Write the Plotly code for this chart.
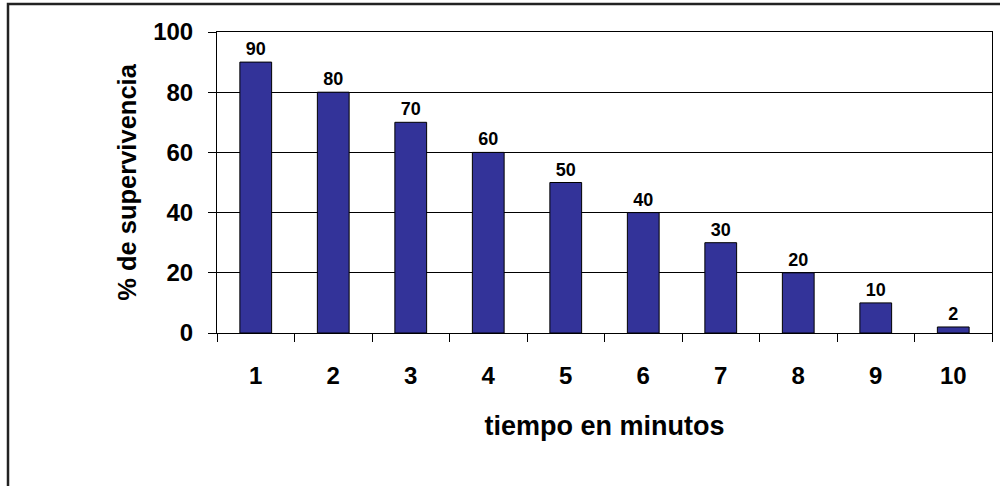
import plotly.graph_objects as go

categories = ["1", "2", "3", "4", "5", "6", "7", "8", "9", "10"]
survival = [90, 80, 70, 60, 50, 40, 30, 20, 10, 2]
y_ticks = [0, 20, 40, 60, 80, 100]

FONT = "Arial, 'Liberation Sans', sans-serif"

fig = go.Figure()
fig.add_trace(go.Bar(
    x=categories,
    y=survival,
    width=0.41,
    marker=dict(color="#333399", line=dict(color="black", width=1)),
    text=[str(v) for v in survival],
    textposition="outside",
    textfont=dict(family=FONT, size=18, color="black", weight="bold"),
    cliponaxis=False,
    hoverinfo="skip",
))

fig.update_layout(
    width=1000, height=486,
    margin=dict(l=217, r=8, t=32, b=153),
    paper_bgcolor="white",
    plot_bgcolor="white",
    showlegend=False,
    font=dict(family=FONT, color="black"),
)

fig.update_xaxes(
    type="category",
    tickson="boundaries",
    ticks="outside", ticklen=8, tickcolor="black", tickwidth=1,
    showline=True, linecolor="black", linewidth=1, mirror=True,
    showgrid=False,
    tickfont=dict(family=FONT, size=24, color="black", weight="bold"),
    ticklabelstandoff=21,
    title=dict(text="tiempo en minutos", standoff=28,
               font=dict(family=FONT, size=27, color="black", weight="bold")),
)

fig.update_yaxes(
    range=[0, 100],
    tickvals=y_ticks,
    ticks="outside", ticklen=8, tickcolor="black", tickwidth=1,
    showline=True, linecolor="black", linewidth=1, mirror=True,
    showgrid=True, gridcolor="black", gridwidth=1,
    zeroline=False,
    tickfont=dict(family=FONT, size=24, color="black", weight="bold"),
    ticklabelstandoff=10,
    title=dict(text="% de supervivencia", standoff=9,
               font=dict(family=FONT, size=25.5, color="black", weight="bold")),
)

# outer chart-area border (extends past the right/bottom edges like the reference)
fig.add_shape(type="rect", xref="paper", yref="paper",
              x0=(8 - 217) / 775, x1=1.05, y0=-0.7, y1=(333 - 4) / 301,
              line=dict(color="#222222", width=2.5), fillcolor="rgba(0,0,0,0)",
              layer="below")

fig.write_html("out.html", config={"displayModeBar": False},
               post_script="document.body.style.margin='0';")
